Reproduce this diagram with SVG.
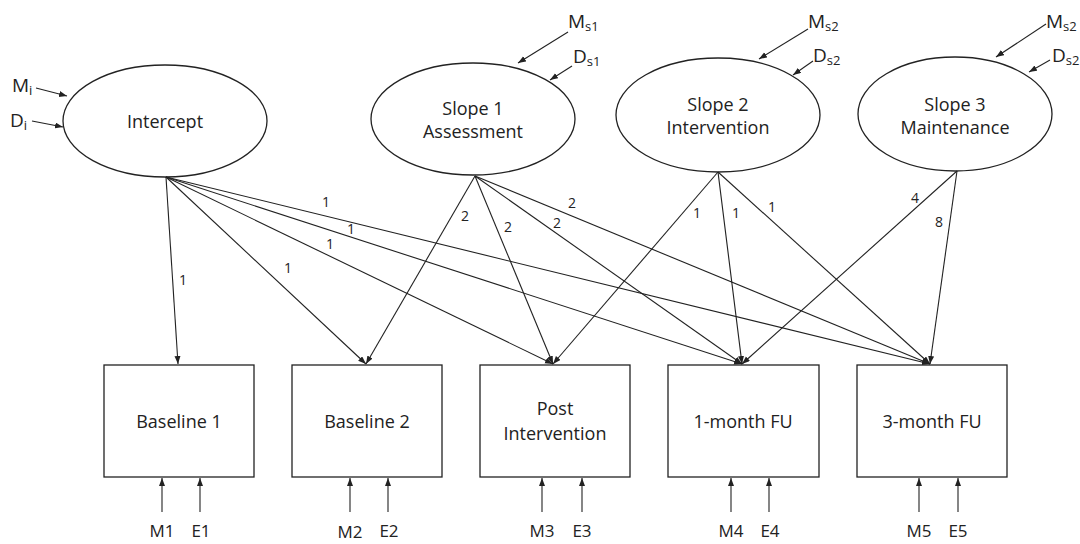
<svg xmlns="http://www.w3.org/2000/svg" width="1080" height="544" viewBox="0 0 1080 544">
<style>
.node{fill:#fff;stroke:#222;stroke-width:1.3}
.t{font-family:"Open Sans","Liberation Sans",sans-serif;font-size:18px;fill:#222;text-anchor:middle}
.b{font-family:"Open Sans","Liberation Sans",sans-serif;font-size:17px;fill:#222;text-anchor:middle}
.lab{font-family:"Open Sans","Liberation Sans",sans-serif;font-size:14px;fill:#222;text-anchor:middle}
.sm{font-family:"Open Sans","Liberation Sans",sans-serif;font-size:19px;fill:#222}
.sub{font-size:13px}
.c line{stroke:#222;stroke-width:1.1;marker-end:url(#ah)}
</style>
<defs>
<marker id="ah" markerUnits="userSpaceOnUse" markerWidth="9" markerHeight="7" refX="8" refY="3" orient="auto">
<path d="M0,0 L8,3 L0,6 z" fill="#222"/>
</marker>
</defs>
<rect width="1080" height="544" fill="#fff"/>

<g id="intercept">
<ellipse class="node" cx="165" cy="121" rx="102" ry="56"/>
<text class="t" x="165" y="128">Intercept</text>
</g>
<g id="slope1">
<ellipse class="node" cx="473" cy="119" rx="102" ry="56"/>
<text class="t" x="473" y="115">Slope 1</text>
<text class="t" x="473" y="138">Assessment</text>
</g>
<g id="slope2">
<ellipse class="node" cx="718" cy="115" rx="102" ry="57"/>
<text class="t" x="718" y="111">Slope 2</text>
<text class="t" x="718" y="134">Intervention</text>
</g>
<g id="slope3">
<ellipse class="node" cx="955" cy="114" rx="97" ry="57"/>
<text class="t" x="955" y="111">Slope 3</text>
<text class="t" x="955" y="134">Maintenance</text>
</g>

<g id="baseline1">
<rect class="node" x="104" y="365" width="150" height="112"/>
<text class="t" x="179" y="428">Baseline 1</text>
</g>
<g id="baseline2">
<rect class="node" x="292" y="365" width="150" height="112"/>
<text class="t" x="367" y="428">Baseline 2</text>
</g>
<g id="post">
<rect class="node" x="480" y="365" width="150" height="112"/>
<text class="t" x="555" y="415">Post</text>
<text class="t" x="555" y="440">Intervention</text>
</g>
<g id="fu1">
<rect class="node" x="668" y="365" width="151" height="112"/>
<text class="t" x="743" y="428">1-month FU</text>
</g>
<g id="fu3">
<rect class="node" x="857" y="365" width="150" height="112"/>
<text class="t" x="932" y="428">3-month FU</text>
</g>

<g id="connectors" class="c">
<line x1="166" y1="177" x2="178" y2="364"/>
<line x1="166" y1="177" x2="366" y2="364"/>
<line x1="166" y1="177" x2="553" y2="364"/>
<line x1="166" y1="177" x2="742" y2="364"/>
<line x1="166" y1="177" x2="930" y2="364"/>
<line x1="475" y1="176" x2="366" y2="364"/>
<line x1="475" y1="176" x2="553" y2="364"/>
<line x1="475" y1="176" x2="742" y2="364"/>
<line x1="475" y1="176" x2="930" y2="364"/>
<line x1="718" y1="172" x2="553" y2="364"/>
<line x1="718" y1="172" x2="742" y2="364"/>
<line x1="718" y1="172" x2="930" y2="364"/>
<line x1="957" y1="171" x2="742" y2="364"/>
<line x1="957" y1="171" x2="930" y2="364"/>
<line x1="36" y1="88" x2="67" y2="96"/>
<line x1="32" y1="121" x2="63" y2="127"/>
<line x1="568" y1="32" x2="518" y2="63"/>
<line x1="572" y1="66" x2="550" y2="80"/>
<line x1="808" y1="29" x2="759" y2="59"/>
<line x1="813" y1="61" x2="793" y2="75"/>
<line x1="1046" y1="24" x2="996" y2="57"/>
<line x1="1050" y1="60" x2="1029" y2="72"/>
<line x1="162" y1="512" x2="162" y2="478"/>
<line x1="200" y1="512" x2="200" y2="478"/>
<line x1="350" y1="512" x2="350" y2="478"/>
<line x1="388" y1="512" x2="388" y2="478"/>
<line x1="542" y1="512" x2="542" y2="478"/>
<line x1="582" y1="512" x2="582" y2="478"/>
<line x1="731" y1="512" x2="731" y2="478"/>
<line x1="769" y1="512" x2="769" y2="478"/>
<line x1="919" y1="512" x2="919" y2="478"/>
<line x1="958" y1="512" x2="958" y2="478"/>
</g>

<g id="path-labels">
<text class="lab" x="183" y="285">1</text>
<text class="lab" x="288" y="273">1</text>
<text class="lab" x="330" y="249">1</text>
<text class="lab" x="351" y="234">1</text>
<text class="lab" x="326" y="207">1</text>
<text class="lab" x="465" y="221">2</text>
<text class="lab" x="508" y="232">2</text>
<text class="lab" x="557" y="228">2</text>
<text class="lab" x="572" y="208">2</text>
<text class="lab" x="697" y="218">1</text>
<text class="lab" x="736" y="218">1</text>
<text class="lab" x="772" y="212">1</text>
<text class="lab" x="915" y="203">4</text>
<text class="lab" x="939" y="227">8</text>
</g>

<g id="error-labels">
<text class="sm" x="12" y="92">M<tspan class="sub" dy="3">i</tspan></text>
<text class="sm" x="10" y="127">D<tspan class="sub" dy="3">i</tspan></text>
<text class="sm" x="568" y="28">M<tspan class="sub" dy="3">s1</tspan></text>
<text class="sm" x="573" y="63">D<tspan class="sub" dy="3">s1</tspan></text>
<text class="sm" x="808" y="28">M<tspan class="sub" dy="3">s2</tspan></text>
<text class="sm" x="813" y="62">D<tspan class="sub" dy="3">s2</tspan></text>
<text class="sm" x="1046" y="28">M<tspan class="sub" dy="3">s2</tspan></text>
<text class="sm" x="1052" y="62">D<tspan class="sub" dy="3">s2</tspan></text>
<text class="b" x="162" y="537">M1</text>
<text class="b" x="201" y="537">E1</text>
<text class="b" x="350" y="538">M2</text>
<text class="b" x="389" y="537">E2</text>
<text class="b" x="542" y="537">M3</text>
<text class="b" x="582" y="537">E3</text>
<text class="b" x="731" y="537">M4</text>
<text class="b" x="770" y="537">E4</text>
<text class="b" x="919" y="537">M5</text>
<text class="b" x="958" y="537">E5</text>
</g>
</svg>
